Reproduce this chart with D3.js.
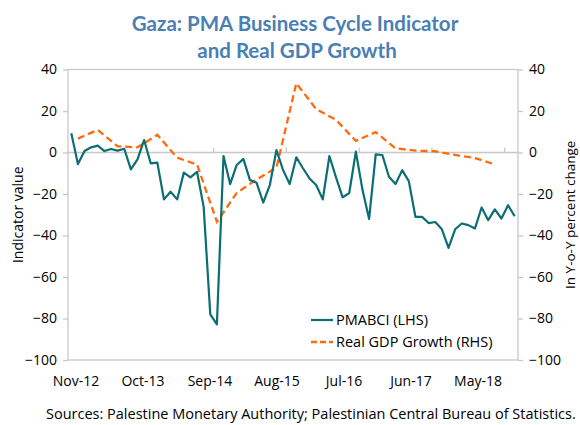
<!DOCTYPE html>
<html>
<head>
<meta charset="utf-8">
<script src="https://cdn.jsdelivr.net/npm/d3@7"></script>
<style>
  body { margin: 0; background: #fff; }
  text { font-family: "Open Sans", sans-serif; fill: #000; }
</style>
</head>
<body>
<div id="chart"></div>
<script>
// monthly categories, Nov-12 .. Jun-18
var months = d3.timeMonth.range(new Date(2012, 10, 1), new Date(2018, 6, 1)).map(d3.timeFormat("%b-%y"));

var pmabci = [9.3, -5.6, 0.7, 2.5, 3.3, 0.7, 1.7, 0.9, 1.8, -8.1, -3.3, 6.0,
  -5.2, -4.9, -22.6, -18.9, -22.6, -9.7, -12, -9.3, -26.2, -78, -82.8, -1.7,
  -15.2, -6, -3.1, -13.3, -14.6, -24.1, -15.7, 1.2, -8.5, -15.2, -2.3, -7.6,
  -12.5, -15.7, -22.6, -1.7, -12, -21.6, -19.5, 0.4, -18, -32, -0.9, -1.2,
  -11.7, -15.2, -8.5, -13.8, -31, -31, -34, -33.5, -37, -46, -37, -34.2,
  -35, -36.6, -26.5, -32.6, -27.4, -31.8, -25.4, -30.7];

var gdpMonths = ["Dec-12", "Mar-13", "Jun-13", "Sep-13", "Dec-13", "Mar-14", "Jun-14", "Sep-14",
  "Dec-14", "Mar-15", "Jun-15", "Sep-15", "Dec-15", "Mar-16", "Jun-16", "Sep-16",
  "Dec-16", "Mar-17", "Jun-17", "Sep-17", "Dec-17", "Mar-18"];
var gdp = [6.7, 10.9, 3.0, 2.5, 8.5, -2.5, -5.8, -33.4,
  -19.5, -13, -7.3, 33.4, 20.9, 15.7, 5.6, 9.8,
  2, 0.9, 0.6, -1.2, -2.7, -5.7];

var xLabels = ["Nov-12", "Oct-13", "Sep-14", "Aug-15", "Jul-16", "Jun-17", "May-18"];
var yTicks = [40, 20, 0, -20, -40, -60, -80, -100];

var width = 580, height = 425;
var plot = {left: 68, right: 518, top: 69.5, bottom: 360};

var svg = d3.select("#chart").append("svg")
    .attr("width", width)
    .attr("height", height);

var x = d3.scaleBand().domain(months).range([plot.left, plot.right]).padding(0);
var y = d3.scaleLinear().domain([-100, 40]).range([plot.bottom, plot.top]);
var y2 = d3.scaleLinear().domain([-100, 40]).range([plot.bottom, plot.top]);
var xl = d3.scalePoint().domain(xLabels).range([76, 478]);

function cx(m) { return x(m) + x.bandwidth() / 2; }

// plot frame
svg.append("rect")
    .attr("x", plot.left).attr("y", plot.top)
    .attr("width", plot.right - plot.left).attr("height", plot.bottom - plot.top)
    .style("fill", "none").style("stroke", "#c8c8c8").style("stroke-width", 1.3);

// left axis
svg.append("g")
    .attr("transform", "translate(" + plot.left + ",0)")
    .call(d3.axisLeft(y).tickValues(yTicks).tickSize(5).tickPadding(6))
    .call(function(g) {
      g.select(".domain").remove();
      g.selectAll("line").style("stroke", "#c8c8c8").style("stroke-width", 1.3);
      g.selectAll("text").style("font-family", "Open Sans").style("font-size", "14px").style("fill", "#000");
    });

// right axis
svg.append("g")
    .attr("transform", "translate(" + plot.right + ",0)")
    .call(d3.axisRight(y2).tickValues(yTicks).tickSize(5).tickPadding(6))
    .call(function(g) {
      g.select(".domain").remove();
      g.selectAll("line").style("stroke", "#c8c8c8").style("stroke-width", 1.3);
      g.selectAll("text").style("font-family", "Open Sans").style("font-size", "14px").style("fill", "#000");
    });

// zero line with tick marks
svg.append("line")
    .attr("x1", plot.left).attr("x2", plot.right)
    .attr("y1", y(0)).attr("y2", y(0))
    .style("stroke", "#c8c8c8").style("stroke-width", 1.3);

svg.selectAll(".ztick")
    .data(["Oct-13", "Sep-14", "Aug-15", "Jul-16", "Jun-17", "May-18"])
    .enter().append("line")
    .attr("class", "ztick")
    .attr("x1", function(d) { return x(d); })
    .attr("x2", function(d) { return x(d); })
    .attr("y1", y(0)).attr("y2", y(0) - 5)
    .style("stroke", "#c8c8c8").style("stroke-width", 1.3);

// x labels
svg.selectAll(".xlab")
    .data(xLabels)
    .enter().append("text")
    .attr("class", "xlab")
    .attr("x", function(d) { return xl(d); })
    .attr("y", 386)
    .attr("text-anchor", "middle")
    .style("font-size", "14px")
    .text(function(d) { return d; });

// lines
var line1 = d3.line()
    .x(function(d, i) { return cx(months[i]); })
    .y(function(d) { return y(d); });

var line2 = d3.line()
    .x(function(d, i) { return cx(gdpMonths[i]); })
    .y(function(d) { return y2(d); });

svg.append("path")
    .datum(gdp)
    .attr("d", line2)
    .style("fill", "none")
    .style("stroke", "#ff6a0d")
    .style("stroke-width", 2.3)
    .style("stroke-dasharray", "7,4");

svg.append("path")
    .datum(pmabci)
    .attr("d", line1)
    .style("fill", "none")
    .style("stroke", "#0b6e75")
    .style("stroke-width", 2.2)
    .style("stroke-linejoin", "round");

// title
svg.append("text")
    .attr("x", 295).attr("y", 31)
    .attr("text-anchor", "middle")
    .style("font-family", "Lato").style("font-weight", "bold")
    .style("font-size", "20.5px").style("fill", "#4a7fb5")
    .text("Gaza: PMA Business Cycle Indicator");

svg.append("text")
    .attr("x", 297).attr("y", 58)
    .attr("text-anchor", "middle")
    .style("font-family", "Lato").style("font-weight", "bold")
    .style("font-size", "20.5px").style("fill", "#4a7fb5")
    .text("and Real GDP Growth");

// axis titles
svg.append("text")
    .attr("transform", "translate(23," + ((plot.top + plot.bottom) / 2) + ") rotate(-90)")
    .attr("text-anchor", "middle")
    .style("font-size", "14px")
    .text("Indicator value");

svg.append("text")
    .attr("transform", "translate(575," + ((plot.top + plot.bottom) / 2) + ") rotate(-90)")
    .attr("text-anchor", "middle")
    .style("font-size", "13.5px")
    .text("In Y-o-Y percent change");

// legend
svg.append("line")
    .attr("x1", 311).attr("x2", 333).attr("y1", 320).attr("y2", 320)
    .style("stroke", "#0b6e75").style("stroke-width", 2.2);

svg.append("line")
    .attr("x1", 311).attr("x2", 333).attr("y1", 342).attr("y2", 342)
    .style("stroke", "#ff6a0d").style("stroke-width", 2.3)
    .style("stroke-dasharray", "6,3");

svg.append("text")
    .attr("x", 336).attr("y", 325)
    .style("font-size", "14.5px")
    .text("PMABCI (LHS)");

svg.append("text")
    .attr("x", 336).attr("y", 347)
    .style("font-size", "14.5px")
    .text("Real GDP Growth (RHS)");

// source
svg.append("text")
    .attr("x", 46).attr("y", 419)
    .style("font-size", "14.5px")
    .text("Sources: Palestine Monetary Authority; Palestinian Central Bureau of Statistics.");
</script>
</body>
</html>
